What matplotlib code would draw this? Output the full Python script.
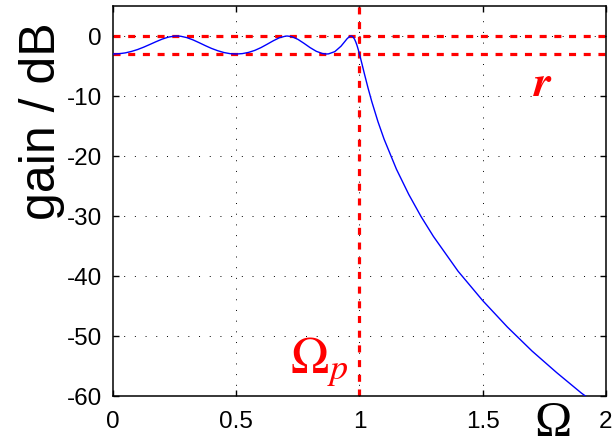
import matplotlib
matplotlib.use('Agg')
import matplotlib.pyplot as plt

# Betragsgang (dB)
omega = [0.0, 0.025, 0.05, 0.075, 0.1, 0.125, 0.15, 0.175, 0.2, 0.225, 0.25, 0.259,
         0.275, 0.3, 0.325, 0.35, 0.375, 0.4, 0.425, 0.45, 0.475, 0.5, 0.525, 0.55,
         0.575, 0.6, 0.625, 0.65, 0.675, 0.7, 0.707, 0.725, 0.75, 0.775, 0.8, 0.825,
         0.85, 0.866, 0.875, 0.9, 0.925, 0.94, 0.95, 0.96, 0.966, 0.97, 0.975, 0.98,
         0.985, 0.99, 0.995, 1.0, 1.01, 1.02, 1.035, 1.05, 1.075, 1.1, 1.15, 1.2,
         1.25, 1.3, 1.4, 1.5, 1.6, 1.7, 1.8, 1.9, 1.92]
gain_db = [-3.0, -2.95, -2.81, -2.57, -2.25, -1.85, -1.40, -0.94, -0.51, -0.18, -0.01, 0.0,
           -0.04, -0.27, -0.65, -1.12, -1.61, -2.07, -2.45, -2.75, -2.94, -3.0, -2.93, -2.73,
           -2.40, -1.94, -1.38, -0.80, -0.29, -0.02, 0.0, -0.10, -0.55, -1.22, -1.94, -2.55,
           -2.92, -3.0, -2.97, -2.60, -1.70, -0.95, -0.44, -0.08, 0.0, -0.04, -0.21, -0.53,
           -0.99, -1.56, -2.25, -3.0, -4.62, -6.29, -8.70, -10.93, -14.27, -17.2, -22.2, -26.4,
           -30.1, -33.4, -39.2, -44.1, -48.5, -52.5, -56.1, -59.5, -60.1]

ripple_levels = [0, -3]
omega_p = 1.0
xticks = [0, 0.5, 1, 1.5, 2]
xticklabels = ['0', '0.5', '1', '1.5', '2']
yticks = [-60, -50, -40, -30, -20, -10, 0]

plt.rcParams['font.family'] = ['Liberation Sans', 'DejaVu Sans']
plt.rcParams['mathtext.fontset'] = 'stix'
plt.rcParams['axes.unicode_minus'] = False

fig = plt.figure(figsize=(6.13, 4.46), dpi=100)
ax = fig.add_axes([0.1843, 0.1121, 0.8042, 0.8744])

# Raster (gepunktet)
for x in xticks[1:-1]:
    ax.axvline(x, color='k', lw=0.7, ls=(0, (1, 10)), zorder=1)
for y in yticks[1:]:
    ax.axhline(y, color='k', lw=0.7, ls=(0, (1, 10)), zorder=1)

ax.plot(omega, gain_db, color='#0000ff', lw=1.0, zorder=3)

for lev in ripple_levels:
    ax.plot([0, 2], [lev, lev], color='red', lw=2.3, ls=(0, (2.2, 2.4)), zorder=2)
ax.axvline(omega_p, color='red', lw=2.3, ls=(0, (2.2, 2.4)), zorder=2)

ax.set_xlim(0, 2)
ax.set_ylim(-60, 5)
ax.set_xticks(xticks)
ax.set_xticklabels(xticklabels)
ax.set_yticks(yticks)
ax.tick_params(direction='in', length=4, width=1, top=True, right=True,
               labelsize=17.5, pad=8)
ax.tick_params(axis='x', pad=11)
for s in ax.spines.values():
    s.set_linewidth(1.1)

ax.text(0.718, -56.2, r'$\Omega_p$', color='red', fontsize=37, ha='left', va='baseline')
ax.text(1.704, -10.0, r'$\mathbfit{r}$', color='red', fontsize=32, ha='left', va='baseline')

fig.text(553 / 613, 1 - 424 / 446, 'Ω', family='Liberation Serif', fontsize=36,
         ha='center', va='center')
fig.text(42 / 613, 1 - 121 / 446, 'gain / dB', fontsize=36, rotation=90,
         ha='center', va='center')

fig.savefig('out.png', dpi=100)
